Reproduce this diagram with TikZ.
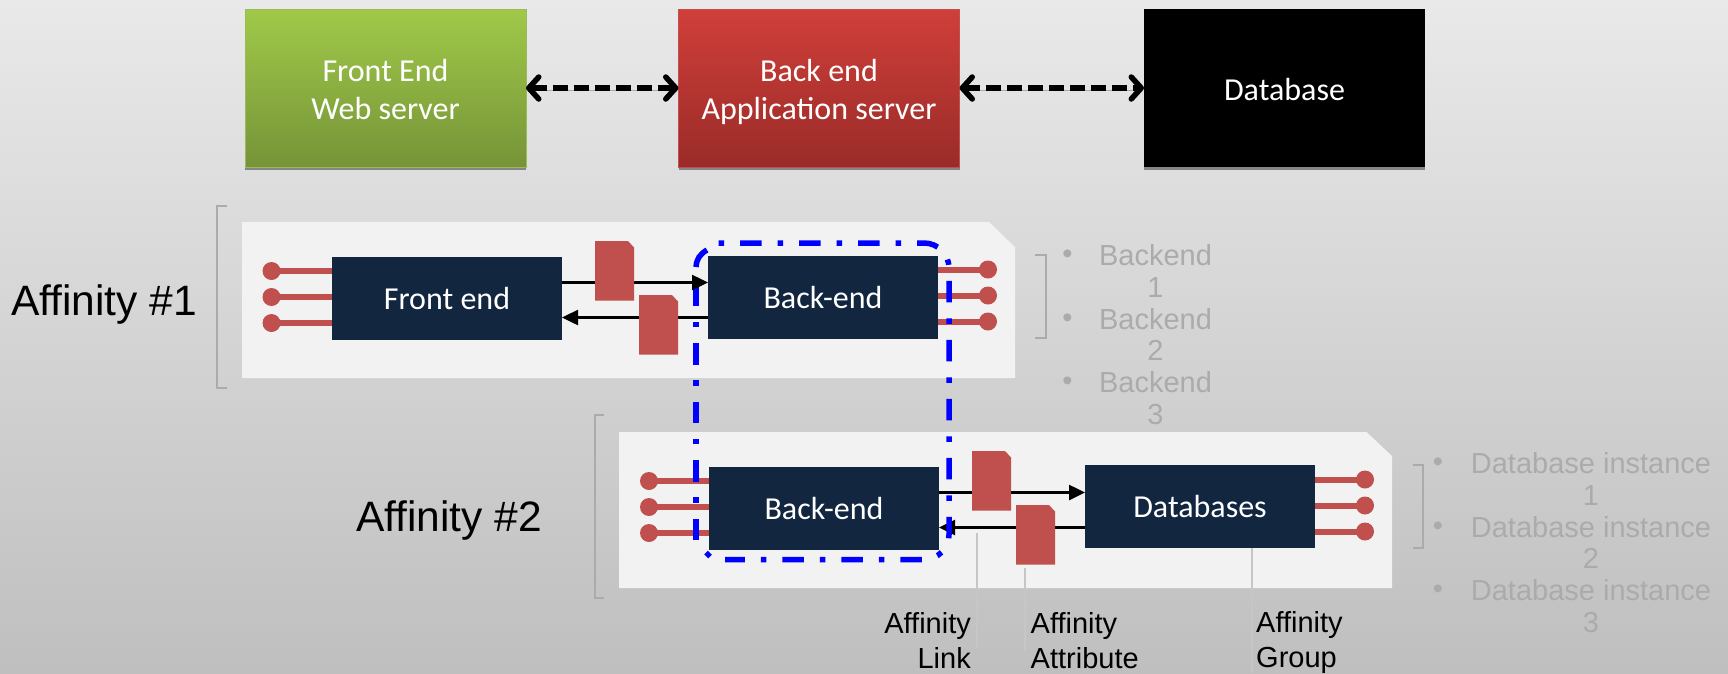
\documentclass[tikz,border=0pt]{standalone}
\usepackage{fontspec}
\setmainfont{Liberation Sans}
\newfontfamily\boxfont{Carlito}
\usetikzlibrary{arrows.meta,shadows,calc}
\definecolor{navy}{HTML}{12263F}
\definecolor{pinred}{HTML}{C0504D}
\definecolor{panelgray}{HTML}{F2F2F2}
\definecolor{bullgray}{HTML}{ABABAB}
\definecolor{brackgray}{HTML}{ABABAB}
\definecolor{leadgray}{HTML}{C6C6C6}
\definecolor{loopblue}{HTML}{0000FF}
\newcommand{\lowerweb}{\rule{0pt}{25pt}}
\newcommand{\lowerapp}{\rule{0pt}{30pt}}
\newcommand{\lowerone}{\rule{0pt}{25pt}}
\tikzset{
  x=1pt,y=-1pt,
  topbox/.style={rectangle,inner sep=0,outer sep=0,minimum width=281,minimum height=158,text=white,align=center,
    font=\boxfont\fontsize{32}{38}\selectfont,drop shadow={shadow xshift=0,shadow yshift=3,opacity=.4,fill=black}},
  darkbox/.style={rectangle,inner sep=0,outer sep=0,fill=navy,minimum width=230,minimum height=83,text=white,
    font=\boxfont\fontsize{32}{36}\selectfont},
  pinhead/.style={circle,fill=pinred,inner sep=0,outer sep=0,minimum size=18},
  pinline/.style={draw=pinred,line width=6},
  panel/.style={fill=panelgray,draw=none},
  bracket/.style={draw=brackgray,line width=2},
  flow/.style={draw=black,line width=2.5,-{Triangle[length=16,width=15]}},
  bigflow/.style={draw=black,line width=5.5,dash pattern=on 15 off 6,{Straight Barb[length=10,width=22,line width=5.5,round]}-{Straight Barb[length=10,width=22,line width=5.5,round]},
    preaction={draw=black,draw opacity=.25,transform canvas={yshift=-2.5}}},
  loopside/.style={draw=loopblue,line width=5.5,rounded corners=25},
  loopa/.style={loopside,dash pattern=on 5.5 off 16 on 21.5 off 16},
  loopb/.style={loopside,dash pattern=on 21.5 off 16 on 5.5 off 15.5},
  leader/.style={draw=leadgray,line width=2},
  docshape/.style={fill=pinred,draw=none},
  sidelabel/.style={inner sep=0,font=\fontsize{42.5}{48}\selectfont,text=black},
  note/.style={inner sep=0,font=\fontsize{29}{35}\selectfont,text=black,align=left},
  noter/.style={note,align=right},
  greytext/.style={inner sep=0,text=bullgray,align=center,font=\fontsize{29}{31.7}\selectfont},
  bull/.style={inner sep=0,text=bullgray,font=\fontsize{29}{31.7}\selectfont},
}
\newcommand{\docat}[2]{\path[docshape] (#1,#2) -- ++(33,0) -- ++(6,6.5) -- ++(0,53) -- ++(-39,0) -- cycle;}
\begin{document}
\begin{tikzpicture}
\useasboundingbox (0,0) rectangle (1728,673);
\shade[top color={rgb,255:red,233;green,233;blue,233},bottom color={rgb,255:red,191;green,191;blue,191}] (0,0) rectangle (1728,673);

% top row
\node[topbox,top color={rgb,255:red,160;green,201;blue,73},bottom color={rgb,255:red,118;green,148;blue,56},draw={rgb,255:red,155;green,187;blue,89},line width=1] (web) at (385.5,88) {\lowerweb Front End\\Web server};
\node[topbox,top color={rgb,255:red,208;green,63;blue,58},bottom color={rgb,255:red,154;green,43;blue,40},draw={rgb,255:red,192;green,80;blue,77},line width=1] (app) at (819,88) {\lowerapp Back end\\Application server};
\node[topbox,fill=black] (db) at (1284.5,88) {\lowerone Database};
\draw[bigflow] (web.east) -- (app.west);
\draw[bigflow] (app.east) -- (db.west);

% panels
\path[panel] (242,222) -- (989,222) -- (1015,247) -- (1015,378) -- (242,378) -- cycle;
\path[panel] (619,432) -- (1366.5,432) -- (1392,456) -- (1392,588) -- (619,588) -- cycle;

% brackets
\draw[bracket] (227,206) -- (217,206) -- (217,388) -- (227,388);
\draw[bracket] (1035,255) -- (1046,255) -- (1046,338) -- (1035,338);
\draw[bracket] (604,415) -- (594.5,415) -- (594.5,598) -- (604,598);
\draw[bracket] (1412.5,465) -- (1423,465) -- (1423,548) -- (1412.5,548);

\coordinate (feC) at (447,298.5);
\coordinate (be1C) at (823,297.5);
\coordinate (be2C) at (824,508.5);
\coordinate (dbC) at (1200,506.5);

% pins
\node[pinhead] (p1) at (271.5,271) {};
\node[pinhead] (p2) at (271.5,297) {};
\node[pinhead] (p3) at (271.5,323) {};
\node[pinhead] (p4) at (988,269.5) {};
\node[pinhead] (p5) at (988,295.5) {};
\node[pinhead] (p6) at (988,321.5) {};
\node[pinhead] (p7) at (649,481) {};
\node[pinhead] (p8) at (649,507) {};
\node[pinhead] (p9) at (649,533) {};
\node[pinhead] (p10) at (1365,479.5) {};
\node[pinhead] (p11) at (1365,505.5) {};
\node[pinhead] (p12) at (1365,531.5) {};
\foreach \p in {p1,p2,p3}{\draw[pinline] (\p.center) -- (\p.center -| 340,0);}
\foreach \p in {p4,p5,p6}{\draw[pinline] (\p.center) -- (\p.center -| 930,0);}
\foreach \p in {p7,p8,p9}{\draw[pinline] (\p.center) -- (\p.center -| 720,0);}
\foreach \p in {p10,p11,p12}{\draw[pinline] (\p.center) -- (\p.center -| 1300,0);}

% row 2 flows beneath the loop
\coordinate (be2E) at (939,492.5);
\coordinate (dbW) at (1085,492.5);
\coordinate (be2Eb) at (939,527.5);
\coordinate (dbWb) at (1085,527.5);
\draw[flow] (be2E) -- (dbW);
\draw[flow] (dbWb) -- (be2Eb);

% dash-dot loop
\draw[loopa] (718.5,243) -- (949,243) -- (949,559.5) -- (725,559.5);
\draw[loopb] (696,540) -- (696,284);
\draw[loopside] (696,267) .. controls (696.5,259) and (700,254) .. (707,250);
\draw[draw=loopblue,line width=5] (710,556.5) -- (706,552.5);

% dark boxes
\node[darkbox] (fe) at (feC) {Front end};
\node[darkbox] (be1) at (be1C) {Back-end};
\node[darkbox] (be2) at (be2C) {Back-end};
\node[darkbox] (dbs) at (dbC) {Databases};

% row 1 flows
\draw[flow] ([yshift=16]fe.east) -- ([yshift=15]be1.west);
\draw[flow] ([yshift=-20]be1.west) -- ([yshift=-19]fe.east);

% attributes
\docat{595}{241}
\docat{639}{295}
\docat{972}{451}
\docat{1016}{505}

% leaders
\coordinate (l1a) at (976.5,533); \coordinate (l1b) at (976.5,647);
\coordinate (l2a) at (1024.5,568); \coordinate (l2b) at (1024.5,651);
\coordinate (l3b) at (1251.5,673);
\draw[leader] (l1a) -- (l1b);
\draw[leader] (l2a) -- (l2b);
\draw[leader] (dbs.south -| l3b) -- (l3b);

% labels
\node[sidelabel,anchor=west] (a1) at (11,305) {Affinity \#1};
\node[sidelabel,anchor=west] (a2) at (356,521) {Affinity \#2};
\node[noter,anchor=east] (n1) at (971,640.5) {Affinity\\Link};
\node[note,anchor=west] (n2) at (1030.5,641) {Affinity\\Attribute};
\node[note,anchor=west] (n3) at (1256,642) {Affinity\\Group};

% grey lists
\foreach \n/\yy in {1/271,2/334.5,3/398}{
  \node[greytext] (bk\n) at (1155.5,\yy) {Backend\\\n};
  \node[bull] (bb\n) at (1067.5,\yy-14) {•};
}
\foreach \n/\yy in {1/479,2/542.5,3/606}{
  \node[greytext] (dbi\n) at (1591,\yy) {Database instance\\\n};
  \node[bull] (db\n) at (1438,\yy-14) {•};
}
\end{tikzpicture}
\end{document}
